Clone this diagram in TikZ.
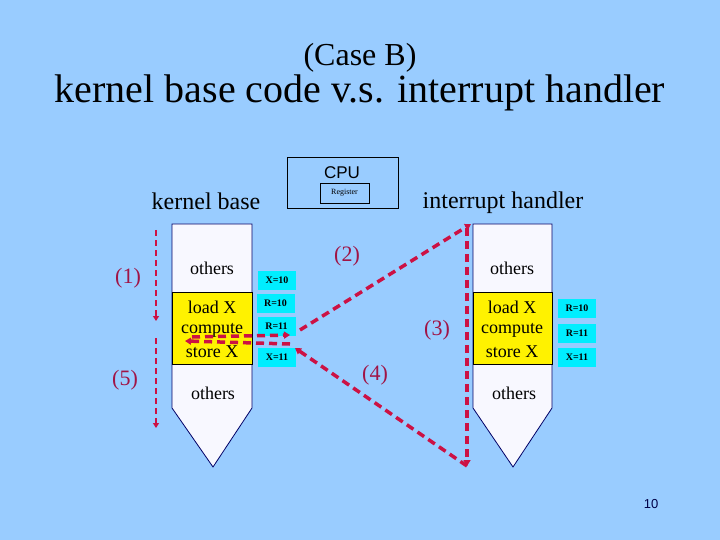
\documentclass[tikz,border=0pt]{standalone}
\usepackage{fontspec}
\setmainfont{Liberation Serif}
\newfontfamily\arialf{Liberation Sans}
\usetikzlibrary{arrows.meta}
\definecolor{bgblue}{RGB}{153,204,255}
\definecolor{arrred}{RGB}{204,17,68}
\definecolor{lblred}{RGB}{160,20,70}
\definecolor{colfill}{RGB}{248,248,255}
\definecolor{navy}{RGB}{0,0,102}
\definecolor{boxcyan}{RGB}{0,238,255}
\tikzset{
  fs/.style={font=\fontsize{#1}{#1}\selectfont},
  coltext/.style={fs=18, inner sep=0pt},
  valbox/.style={fill=boxcyan, minimum width=38pt, minimum height=19pt, inner sep=0pt, font=\fontsize{10}{10}\selectfont\bfseries},
  lbl/.style={fs=22, text=lblred, inner sep=0pt},
  thickarr/.style={draw=arrred, line width=3.5pt, dash pattern=on 8pt off 5pt, -{Triangle[length=6pt,width=7pt]}},
  thinarr/.style={draw=arrred, line width=2.5pt, dash pattern=on 6pt off 4pt, -{Triangle[length=5pt,width=6pt]}},
  column/.style={fill=colfill, draw=navy, line width=0.8pt},
  yband/.style={fill=yellow, draw=black, line width=0.8pt}
}
\begin{document}
\begin{tikzpicture}[x=1pt,y=-1pt]
\fill[bgblue] (0,0) rectangle (720,540);
\useasboundingbox (0,0) rectangle (720,540);

% titles
\node[fs=32, anchor=base, inner sep=0pt] (case) at (360,66) {(Case B)};
\node[fs=40, anchor=base, inner sep=0pt] (title) at (360,103) {kernel base code v.s. interrupt handler};

% CPU
\node[draw=black, line width=0.6pt, minimum width=111pt, minimum height=51pt, inner sep=0pt] (cpu) at (342.5,182.5) {};
\node[font=\arialf\fontsize{17}{17}\selectfont, inner sep=0pt] (cputxt) at (342,173) {CPU};
\node[draw=black, line width=0.6pt, minimum width=49pt, minimum height=20pt, inner sep=0pt, fs=8] (reg) at (344.5,193) {Register};

% headings
\node[fs=24, anchor=base, inner sep=0pt] (kb) at (206,210) {kernel base};
\node[fs=24, anchor=base, inner sep=0pt] (ih) at (503,208) {interrupt handler};

% left column
\draw[column] (172,224) -- (252,224) -- (252,408) -- (213,467) -- (172,408) -- cycle;
\draw[yband] (172,292) rectangle (252,364);
\node[coltext] (k1) at (212,268) {others};
\node[coltext] (k2) at (212,307) {load X};
\node[coltext] (k3) at (212,330) {compute};
\node[coltext] (k4) at (212,352) {store X};
\node[coltext] (k5) at (213,393) {others};

% right column
\draw[column] (473,224) -- (552,224) -- (552,408) -- (513,467) -- (473,408) -- cycle;
\draw[yband] (473,292) rectangle (552,364);
\node[coltext] (h1) at (512,268) {others};
\node[coltext] (h2) at (512,307) {load X};
\node[coltext] (h3) at (512,330) {compute};
\node[coltext] (h4) at (512,352) {store X};
\node[coltext] (h5) at (514,393) {others};

% value boxes
\node[valbox] (bx1) at (277,280) {X=10};
\node[valbox] (bx2) at (275.5,303.5) {R=10};
\node[valbox] (bx3) at (276.5,326.5) {R=11};
\node[valbox] (bx4) at (277,357.5) {X=11};
\node[valbox] (by1) at (577,308) {R=10};
\node[valbox] (by2) at (577,333.5) {R=11};
\node[valbox] (by3) at (577,357) {X=11};

% labels
\node[lbl] (l1) at (128,278) {(1)};
\node[lbl] (l5) at (125,380) {(5)};
\node[lbl] (l2) at (347,256) {(2)};
\node[lbl] (l3) at (437,330) {(3)};
\node[lbl] (l4) at (375,375) {(4)};

% coordinates for connectors
\coordinate (a1s) at (156,230);
\coordinate (a1e) at (156,321);
\coordinate (a5s) at (156,338);
\coordinate (a5e) at (156,428);
\coordinate (outs) at (192,337);
\coordinate (oute) at (290,335);
\coordinate (rets) at (290,344);
\coordinate (rete) at (185,341);
\coordinate (p2s) at (300,330);
\coordinate (ht) at (471,224);
\coordinate (hb) at (467,466);
\coordinate (p4e) at (295,348);

\draw[thinarr] (a1s) -- (a1e);
\draw[thinarr] (a5s) -- (a5e);
\draw[thickarr] (outs) -- (oute);
\draw[thickarr] (rets) -- (rete);
\draw[thickarr] (p2s) -- (ht);
\draw[thickarr] (467,228) -- (hb);
\draw[thickarr] (hb) -- (p4e);

% page number
\node[font=\arialf\fontsize{13}{13}\selectfont, text=navy!70!black, inner sep=0pt] (pg) at (651,504) {10};
\end{tikzpicture}
\end{document}
